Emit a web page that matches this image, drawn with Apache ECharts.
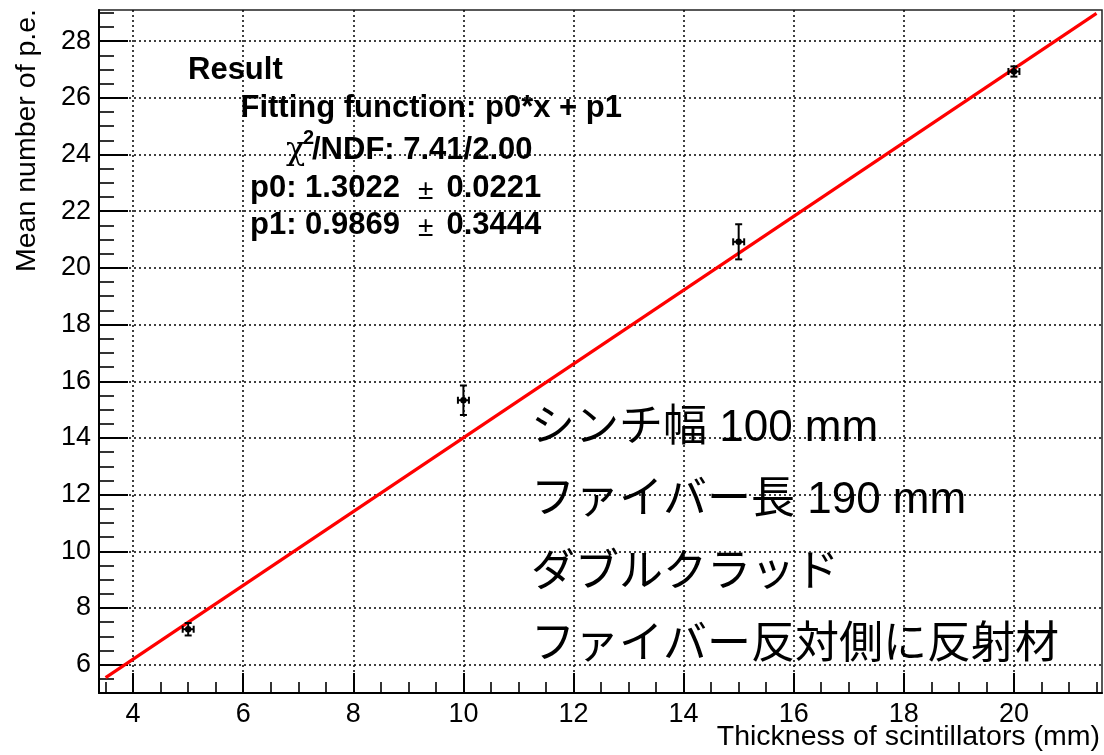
<!DOCTYPE html>
<html>
<head>
<meta charset="utf-8">
<script src="https://cdn.jsdelivr.net/npm/echarts@6/dist/echarts.min.js"></script>
<style>
html,body{margin:0;padding:0;background:#fff;}
#chart{width:1104px;height:755px;}
</style>
</head>
<body>
<div id="chart"></div>
<script>
// ---- data ----
const thickness = [5, 10, 15, 20];
const meanPE = [7.25, 15.33, 20.92, 26.93];
const thicknessErr = [0.1, 0.1, 0.1, 0.1];
const meanPEErr = [0.22, 0.52, 0.62, 0.18];
const fitX = [3.5, 21.5];
const fitY = [5.54, 28.98];
const xTicks = [4, 6, 8, 10, 12, 14, 16, 18, 20];
const yTicks = [6, 8, 10, 12, 14, 16, 18, 20, 22, 24, 26, 28];
const xMinorTicks = [3.5,4,4.5,5,5.5,6,6.5,7,7.5,8,8.5,9,9.5,10,10.5,11,11.5,12,12.5,13,13.5,14,14.5,15,15.5,16,16.5,17,17.5,18,18.5,19,19.5,20,20.5,21,21.5];
const yMinorTicks = [5.5,6,6.5,7,7.5,8,8.5,9,9.5,10,10.5,11,11.5,12,12.5,13,13.5,14,14.5,15,15.5,16,16.5,17,17.5,18,18.5,19,19.5,20,20.5,21,21.5,22,22.5,23,23.5,24,24.5,25,25.5,26,26.5,27,27.5,28,28.5,29];
const xTitle = 'Thickness of scintillators (mm)';
const yTitle = 'Mean number of p.e.';
const resultLines = {
  title: 'Result',
  func: 'Fitting function: p0*x + p1',
  chiRest: '/NDF: 7.41/2.00',
  p0: 'p0: 1.3022', p0Err: '0.0221',
  p1: 'p1: 0.9869', p1Err: '0.3444'
};
const noteLines = ['シンチ幅 100 mm', 'ファイバー長 190 mm', 'ダブルクラッド', 'ファイバー反対側に反射材'];

const X_MIN = 3.38, X_MAX = 21.6, Y_MIN = 5, Y_MAX = 29.1;
const FF = "'Liberation Sans', Arial, Helvetica, sans-serif";
const FFJ = "'Liberation Sans', 'Noto Sans CJK JP', sans-serif";

const chart = echarts.init(document.getElementById('chart'), null, {renderer: 'canvas'});

const gridLine = {show: true, lineStyle: {color: '#000', width: 1.5, type: [2, 3]}};

function txt(text, x, y, font, opts) {
  return {
    type: 'text', z: 100,
    style: Object.assign({text: text, x: x, y: y, font: font, fill: '#000', textAlign: 'left', textVerticalAlign: 'middle'}, opts || {})
  };
}

const graphics = [
  txt(resultLines.title, 188, 70.5, 'bold 31px ' + FF),
  txt(resultLines.func, 240.5, 108.3, 'bold 31px ' + FF),
  txt('χ', 286, 151, '32px "DejaVu Serif", "Liberation Serif", serif'),
  txt('2', 303, 138, 'bold 20px ' + FF),
  txt(resultLines.chiRest, 312, 150.3, 'bold 31px ' + FF),
  txt(resultLines.p0, 250, 188.3, 'bold 31px ' + FF),
  txt('±', 418, 191, '28px ' + FF),
  txt(resultLines.p0Err, 446.5, 188.3, 'bold 31px ' + FF),
  txt(resultLines.p1, 250, 225, 'bold 31px ' + FF),
  txt('±', 418, 228, '28px ' + FF),
  txt(resultLines.p1Err, 446.5, 225, 'bold 31px ' + FF),
  txt(noteLines[0], 531, 429, '44px ' + FFJ),
  txt(noteLines[1], 531, 501, '44px ' + FFJ),
  txt(noteLines[2], 531, 574, '44px ' + FFJ),
  txt(noteLines[3], 531, 646, '44px ' + FFJ),
  txt(xTitle, 1100, 737, '28.5px ' + FF, {textAlign: 'right'}),
  {
    type: 'text', z: 100, x: 27, y: 9, rotation: Math.PI / 2,
    style: {text: yTitle, x: 0, y: 0, font: '28.5px ' + FF, fill: '#000', textAlign: 'right', textVerticalAlign: 'middle'}
  }
];

const option = {
  backgroundColor: '#fff',
  animation: false,
  grid: {left: 99, top: 10, right: 2, bottom: 62, show: true, borderColor: '#222', borderWidth: 1.5, backgroundColor: 'transparent'},
  xAxis: [
    {
      type: 'value', min: X_MIN, max: X_MAX, position: 'bottom',
      axisLine: {show: true, onZero: false, lineStyle: {color: '#000', width: 2}},
      axisTick: {show: true, inside: true, length: 20, customValues: xTicks, lineStyle: {color: '#000', width: 2}},
      axisLabel: {show: true, customValues: xTicks, margin: 8, fontSize: 27, fontFamily: FF, color: '#000'},
      splitLine: gridLine
    },
    {
      type: 'value', min: X_MIN, max: X_MAX, position: 'bottom',
      axisLine: {show: false, onZero: false},
      axisTick: {show: true, inside: true, length: 11, customValues: xMinorTicks, lineStyle: {color: '#000', width: 1.6}},
      axisLabel: {show: false},
      splitLine: {show: false}
    }
  ],
  yAxis: [
    {
      type: 'value', min: Y_MIN, max: Y_MAX, position: 'left',
      axisLine: {show: true, onZero: false, lineStyle: {color: '#000', width: 2}},
      axisTick: {show: true, inside: true, length: 29, customValues: yTicks, lineStyle: {color: '#000', width: 2}},
      axisLabel: {show: true, customValues: yTicks, margin: 8, fontSize: 27, fontFamily: FF, color: '#000'},
      splitLine: gridLine
    },
    {
      type: 'value', min: Y_MIN, max: Y_MAX, position: 'left',
      axisLine: {show: false, onZero: false},
      axisTick: {show: true, inside: true, length: 15, customValues: yMinorTicks, lineStyle: {color: '#000', width: 1.6}},
      axisLabel: {show: false},
      splitLine: {show: false}
    }
  ],
  series: [
    {
      type: 'line', xAxisIndex: 0, yAxisIndex: 0,
      data: fitX.map((x, i) => [x, fitY[i]]),
      symbol: 'none', lineStyle: {color: '#ff0000', width: 3.2}, z: 5, silent: true
    },
    {
      type: 'custom', xAxisIndex: 0, yAxisIndex: 0, z: 10,
      data: thickness.map((x, i) => [x, meanPE[i], thicknessErr[i], meanPEErr[i]]),
      renderItem: function (params, api) {
        const x = api.value(0), y = api.value(1), ex = api.value(2), ey = api.value(3);
        const c = api.coord([x, y]);
        const t = api.coord([x, y + ey]);
        const b = api.coord([x, y - ey]);
        const l = api.coord([x - ex, y]);
        const r = api.coord([x + ex, y]);
        const cap = 3.5;
        const st = {stroke: '#000', lineWidth: 2};
        return {
          type: 'group',
          children: [
            {type: 'line', shape: {x1: t[0], y1: t[1], x2: b[0], y2: b[1]}, style: st},
            {type: 'line', shape: {x1: t[0] - cap, y1: t[1], x2: t[0] + cap, y2: t[1]}, style: st},
            {type: 'line', shape: {x1: b[0] - cap, y1: b[1], x2: b[0] + cap, y2: b[1]}, style: st},
            {type: 'line', shape: {x1: l[0], y1: l[1], x2: r[0], y2: r[1]}, style: st},
            {type: 'line', shape: {x1: l[0], y1: l[1] - cap, x2: l[0], y2: l[1] + cap}, style: st},
            {type: 'line', shape: {x1: r[0], y1: r[1] - cap, x2: r[0], y2: r[1] + cap}, style: st},
            {type: 'circle', shape: {cx: c[0], cy: c[1], r: 3.2}, style: {fill: '#000'}}
          ]
        };
      }
    }
  ],
  graphic: graphics
};
chart.setOption(option);
</script>
</body>
</html>
